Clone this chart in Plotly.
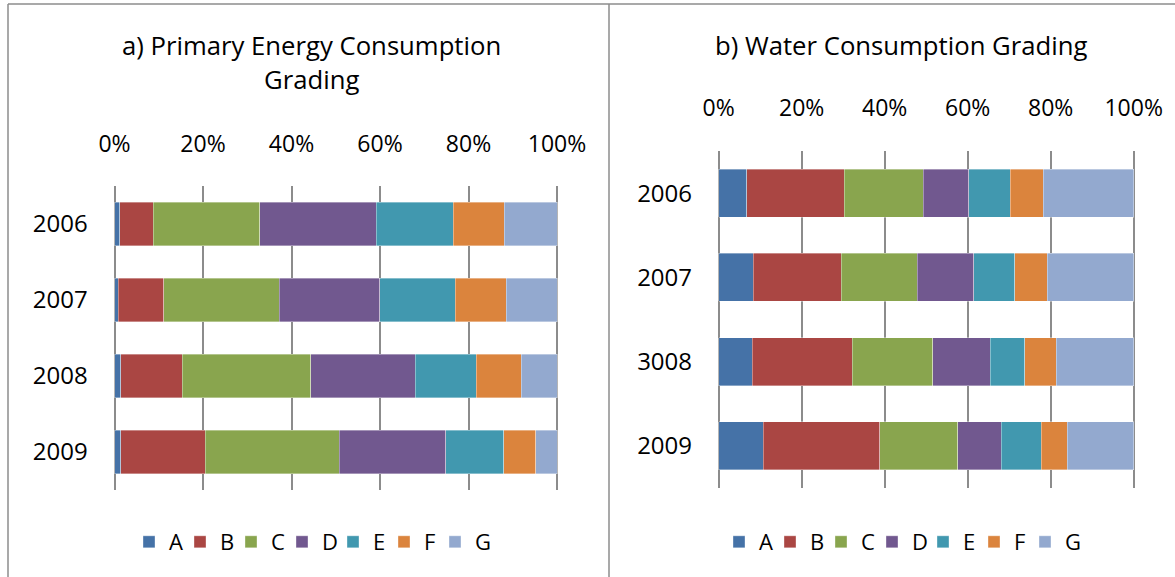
import plotly.graph_objects as go

# grading shares (%)
grades = ['A', 'B', 'C', 'D', 'E', 'F', 'G']
grade_colors = ['#4572A7', '#AA4643', '#89A54E', '#71588F', '#4198AF', '#DB843D', '#93A9CF']

energy_years = ['2006', '2007', '2008', '2009']
energy_A = [1.2, 0.9, 1.4, 1.4]
energy_B = [7.5, 10.2, 13.9, 19.1]
energy_C = [24.1, 26.1, 29.1, 30.3]
energy_D = [26.4, 22.7, 23.6, 24.1]
energy_E = [17.4, 17.1, 13.7, 13.1]
energy_F = [11.5, 11.5, 10.2, 7.2]
energy_G = [11.9, 11.5, 8.1, 4.8]

water_years = ['2006', '2007', '3008', '2009']
water_A = [6.8, 8.3, 8.1, 10.7]
water_B = [23.4, 21.2, 24.1, 28.1]
water_C = [19.1, 18.4, 19.4, 18.8]
water_D = [11.0, 13.5, 13.8, 10.5]
water_E = [9.9, 9.9, 8.4, 9.6]
water_F = [8.0, 7.9, 7.5, 6.3]
water_G = [21.8, 20.8, 18.7, 16.0]

tick_vals = [0, 20, 40, 60, 80, 100]
tick_text = ['0%', '20%', '40%', '60%', '80%', '100%']

energy = [energy_A, energy_B, energy_C, energy_D, energy_E, energy_F, energy_G]
water = [water_A, water_B, water_C, water_D, water_E, water_F, water_G]

W, H = 1175, 577
FONT = "Open Sans"
PAD = 0.4  # axis padding (in %) so the 0% and 100% gridlines are drawn


def px(x):
    return x / W


def py(y):
    return 1 - y / H


def xdomain(x0, x1):
    d = (x1 - x0) * PAD / 100
    return [px(x0 - d), px(x1 + d)]


fig = go.Figure()

bar_line = dict(width=0.6, color='rgba(255,255,255,0.6)')
for name, col, vals in zip(grades, grade_colors, energy):
    fig.add_trace(go.Bar(name=name, y=energy_years, x=vals, orientation='h',
                         marker=dict(color=col, line=bar_line),
                         xaxis='x', yaxis='y', legend='legend'))
for name, col, vals in zip(grades, grade_colors, water):
    fig.add_trace(go.Bar(name=name, y=water_years, x=vals, orientation='h',
                         marker=dict(color=col, line=bar_line),
                         xaxis='x2', yaxis='y2', legend='legend2'))

# blank legend entries so the last letter is not clipped by the tight entry width
for ax, ay, leg in [('x', 'y', 'legend'), ('x2', 'y2', 'legend2')]:
    fig.add_trace(go.Scatter(x=[None], y=[None], name='\u00a0', mode='lines',
                             line=dict(width=0, color='rgba(0,0,0,0)'),
                             xaxis=ax, yaxis=ay, legend=leg, hoverinfo='skip'))

xcommon = dict(range=[-PAD, 100 + PAD], tickmode='array', tickvals=tick_vals, ticktext=tick_text,
               side='top', showgrid=True, gridcolor='#8c8c8c', gridwidth=2,
               zeroline=False, showline=False, ticks='', automargin=False,
               tickfont=dict(size=23, color='black', family=FONT), fixedrange=True)
ycommon = dict(autorange='reversed', showgrid=False, showline=False, ticks='', automargin=False,
               ticklabelstandoff=24, tickfont=dict(size=24, color='black', family=FONT),
               fixedrange=True)

legcommon = dict(orientation='h', yanchor='middle', y=py(542), xanchor='left',
                 font=dict(size=22, color='black', family=FONT), itemwidth=30,
                 entrywidth=6, entrywidthmode='pixels',
                 bgcolor='rgba(0,0,0,0)', traceorder='normal')

fig.update_layout(
    width=W, height=H,
    margin=dict(l=0, r=0, t=0, b=0, autoexpand=False),
    paper_bgcolor='white', plot_bgcolor='white',
    barmode='stack', barnorm='percent', bargap=0.43,
    font=dict(family=FONT, color='black'),
    xaxis=dict(domain=xdomain(114.5, 557), anchor='y', ticklabelstandoff=28, **xcommon),
    yaxis=dict(domain=[py(490), py(186)], anchor='x', **ycommon),
    xaxis2=dict(domain=xdomain(718.7, 1133.7), anchor='y2', ticklabelstandoff=29, **xcommon),
    yaxis2=dict(domain=[py(488), py(151)], anchor='x2', **ycommon),
    legend=dict(x=px(129), **legcommon),
    legend2=dict(x=px(719), **legcommon),
)

title_font = dict(size=25.7, color='black', family=FONT)
for txt, x, y in [("a) Primary Energy Consumption", 311, 45), ("Grading", 311, 80),
                  ("b) Water Consumption Grading", 901, 45)]:
    fig.add_annotation(text=txt, xref='paper', yref='paper', x=px(x), y=py(y),
                       xanchor='center', yanchor='middle', showarrow=False, font=title_font)

# panel frames
border = dict(color='#8c8c8c', width=1.5)
fig.add_shape(type='line', xref='paper', yref='paper', x0=px(8), x1=px(1175), y0=py(4), y1=py(4), line=border)
fig.add_shape(type='line', xref='paper', yref='paper', x0=px(8), x1=px(8), y0=py(4), y1=0, line=border)
fig.add_shape(type='line', xref='paper', yref='paper', x0=px(609), x1=px(609), y0=py(4), y1=0, line=border)

fig.write_html("out.html", config={'displayModeBar': False},
               post_script="document.body.style.margin='0';")
